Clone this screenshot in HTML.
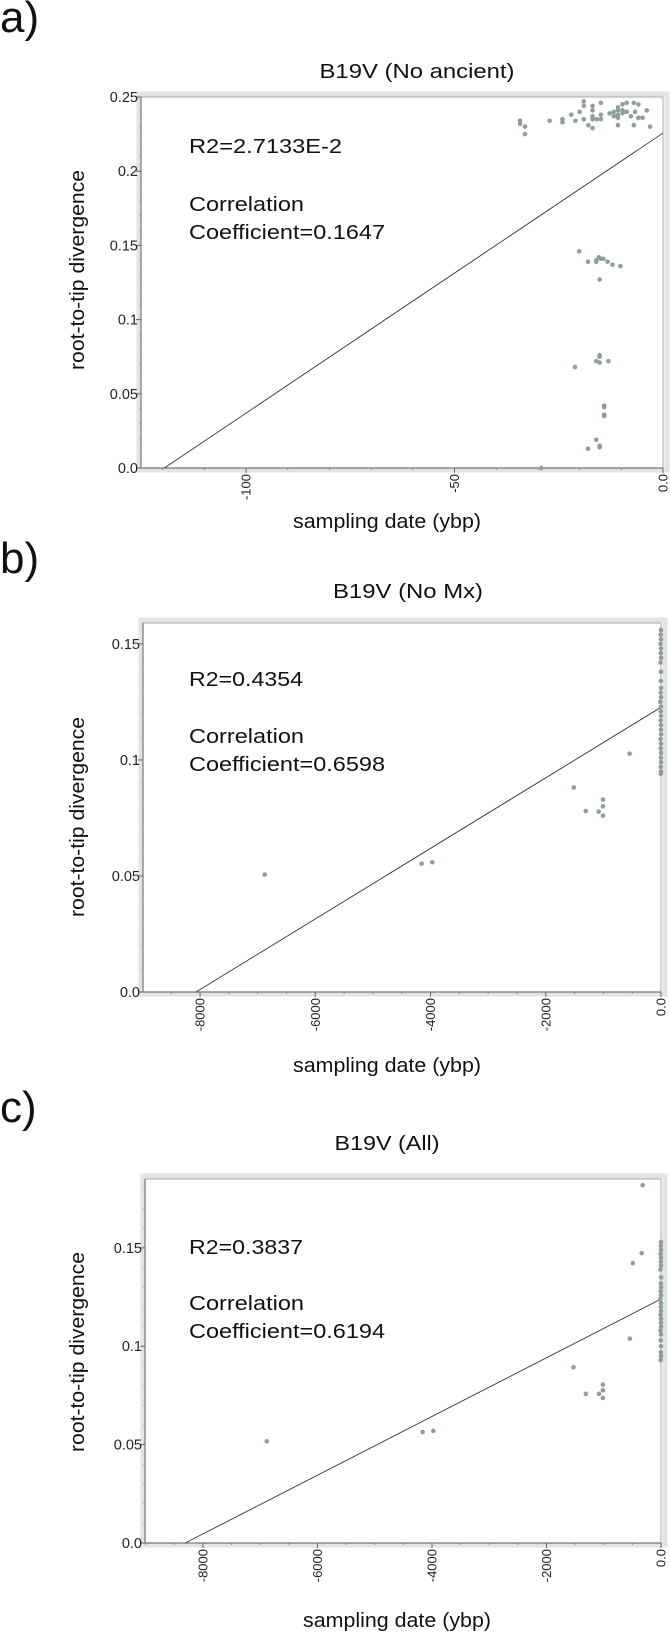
<!DOCTYPE html>
<html><head><meta charset="utf-8">
<style>
html,body{margin:0;padding:0;background:#fff;}
svg{display:block;font-family:"Liberation Sans",Arial,sans-serif;}
</style></head>
<body>
<svg id="fig" width="670" height="1641" viewBox="0 0 670 1641" xmlns="http://www.w3.org/2000/svg"></svg>
<script>
// ---- Panel a data (No ancient) ----
const aYears = [-34.3,-34.3,-33.1,-33.1,-27.2,-24.1,-24.1,-22.0,-21.0,-20.0,-19.0,-19.0,-19.0,-17.9,-16.9,-16.9,-16.9,-16.9,-16.9,-15.9,-14.9,-14.9,-14.9,-12.8,-11.8,-11.8,-10.8,-10.8,-10.8,-10.8,-10.8,-9.7,-9.7,-9.7,-8.7,-8.7,-7.7,-7.0,-7.0,-6.7,-5.9,-5.9,-4.9,-3.9,-3.1,
  -20.1,-18.0,-16.0,-15.4,-14.9,-14.3,-13.3,-12.1,-10.2,-15.2,-16.0,
  -21.1,-16.0,-15.2,-15.2,-15.2,-13.1,
  -14.1,-14.1,-14.1,-14.1,
  -16.0,-18.0,-15.2,-15.2,-29.2];
const aValues = [0.234,0.232,0.230,0.225,0.234,0.235,0.233,0.238,0.234,0.240,0.247,0.244,0.235,0.231,0.229,0.244,0.241,0.237,0.235,0.235,0.246,0.238,0.235,0.239,0.240,0.237,0.243,0.241,0.238,0.236,0.231,0.245,0.241,0.239,0.246,0.240,0.237,0.246,0.231,0.240,0.245,0.236,0.236,0.241,0.230,
  0.146,0.139,0.139,0.142,0.141,0.141,0.139,0.137,0.136,0.127,0.140,
  0.068,0.072,0.076,0.075,0.071,0.072,
  0.042,0.041,0.036,0.035,
  0.019,0.013,0.015,0.014,0.000];
const aFit = [-119.6, 0.2257]; // x-intercept, value at 0
const aXTicks = [-100,-50,0];
const aXTickLabels = ["-100","-50","0.0"];
const aYTicks = [0,0.05,0.1,0.15,0.2,0.25];
const aYTickLabels = ["0.0","0.05","0.1","0.15","0.2","0.25"];

// ---- Panel b data (No Mx) ----
const bYears = [-6878,-4155,-3969,-1514,-1306,-1082,-1007,-1007,-1007,-545,
  0,-5,0,-8,0,-4,0,-10,0,-3,0,-6,0,-12,0,-4,0,-7,0,-2,0,-9,0,-5,0,-3,0,-6,0,-4];
const bValues = [0.0506,0.0553,0.0559,0.0881,0.078,0.0777,0.0829,0.080,0.076,0.1027,
  0.156,0.154,0.152,0.150,0.148,0.146,0.144,0.142,0.138,0.134,0.131,0.129,0.127,0.125,0.123,0.121,0.119,0.117,0.115,0.113,0.111,0.109,0.107,0.105,0.103,0.101,0.099,0.097,0.095,0.094];
const bFit = [-8070, 0.1227];
const bXTicks = [-8000,-6000,-4000,-2000,0];
const bXTickLabels = ["-8000","-6000","-4000","-2000","0.0"];
const bYTicks = [0,0.05,0.1,0.15];
const bYTickLabels = ["0.0","0.05","0.1","0.15"];

// ---- Panel c data (All) ----
const cYears = [-6886,-4163,-3976,-1529,-1313,-1082,-1015,-1015,-1015,-545,-492,-336,-321,
  0,-5,0,-8,0,-4,0,-10,0,-3,0,-6,0,-12,0,-4,0,-7,0,-2,0,-9,0,-5,0,-3,0,-6];
const cValues = [0.0517,0.0564,0.057,0.0893,0.0758,0.0758,0.0805,0.0776,0.0737,0.1039,0.1422,0.1473,0.1819,
  0.153,0.151,0.149,0.147,0.145,0.143,0.141,0.139,0.135,0.132,0.130,0.128,0.126,0.124,0.122,0.120,0.118,0.116,0.114,0.112,0.110,0.108,0.106,0.103,0.100,0.097,0.095,0.093];
const cFit = [-8310, 0.124];
const cXTicks = [-8000,-6000,-4000,-2000,0];
const cXTickLabels = ["-8000","-6000","-4000","-2000","0.0"];
const cYTicks = [0,0.05,0.1,0.15];
const cYTickLabels = ["0.0","0.05","0.1","0.15"];

const NS = "http://www.w3.org/2000/svg";
const svg = document.getElementById('fig');
function mk(tag, attrs, parent){
  const e = document.createElementNS(NS, tag);
  for (const k in attrs) e.setAttribute(k, attrs[k]);
  (parent||svg).appendChild(e);
  return e;
}
function fit(t, len){
  t.setAttribute('textLength', len);
  t.setAttribute('lengthAdjust', 'spacingAndGlyphs');
}

function panel(cfg){
  const g = mk('g', {});
  
  
  const L=cfg.left, R=cfg.right, T=cfg.top, B=cfg.bottom;
  const xS = v => L + (v - cfg.xMin)/(cfg.xMax - cfg.xMin)*(R-L);
  const yS = v => B - (v - cfg.yMin)/(cfg.yMax - cfg.yMin)*(B-T);

  const letter = mk('text', {x:0, y:cfg.letterY, 'font-size':44, fill:'#111'}, g);
  letter.textContent = cfg.letter;
  
  

  const title = mk('text', {x:cfg.titleX, y:cfg.titleY, 'font-size':20, 'text-anchor':'middle', fill:'#111'}, g);
  title.textContent = cfg.title;
  fit(title, cfg.titleLen);
  
  

  const frame = mk('rect', {x:L-2, y:T-3, width:R-L+6, height:B-T+5, fill:'none', stroke:'#e3e3e3', 'stroke-width':5}, g);
  
  
  const box = mk('rect', {x:L, y:T, width:R-L, height:B-T, fill:'#fff', stroke:'#aaa', 'stroke-width':1}, g);
  
  

  const xa = mk('line', {x1:L, y1:B, x2:R, y2:B, stroke:'#777', 'stroke-width':1.2}, g);
  
  
  const ya = mk('line', {x1:L, y1:T, x2:L, y2:B, stroke:'#777', 'stroke-width':1.2}, g);
  
  

  for (let v = cfg.xMin; v <= cfg.xMax + 1e-9; v += cfg.xMinor){
    const k = Math.round(v/cfg.xMinor)*cfg.xMinor;
    if (k < cfg.xMin) continue;
    mk('line', {x1:xS(k), y1:B, x2:xS(k), y2:B+2, stroke:'#777', 'stroke-width':0.8}, g);
  }
  for (let v = cfg.yMin; v <= cfg.yMax + 1e-9; v += cfg.yMinor){
    mk('line', {x1:L-2, y1:yS(v), x2:L, y2:yS(v), stroke:'#999', 'stroke-width':0.6}, g);
  }
  cfg.xTicks.forEach((v,i)=>{
    mk('line', {x1:xS(v), y1:B, x2:xS(v), y2:B+5, stroke:'#666', 'stroke-width':1}, g);
    const t = mk('text', {x:0, y:0, 'font-size':13, 'text-anchor':'end', fill:'#222',
      transform:`translate(${xS(v)+4.5},${B+6}) rotate(-90)`}, g);
    t.textContent = cfg.xTickLabels[i];
    
    
  });
  cfg.yTicks.forEach((v,i)=>{
    mk('line', {x1:L-5, y1:yS(v), x2:L, y2:yS(v), stroke:'#666', 'stroke-width':1}, g);
    const t = mk('text', {x:L-3, y:yS(v)+5, 'font-size':14.5, 'text-anchor':'end', fill:'#222'}, g);
    t.textContent = cfg.yTickLabels[i];
    
    
  });

  const xl = mk('text', {x:cfg.xLabelX, y:cfg.xLabelY, 'font-size':20, 'text-anchor':'middle', fill:'#111'}, g);
  xl.textContent = 'sampling date (ybp)';
  fit(xl, 188);
  
  
  const yl = mk('text', {x:0, y:0, 'font-size':20, 'text-anchor':'middle', fill:'#111',
    transform:`translate(84,${cfg.yLabelY}) rotate(-90)`}, g);
  yl.textContent = 'root-to-tip divergence';
  fit(yl, 200);
  
  

  const fl = mk('line', {x1:xS(cfg.fit[0]), y1:yS(0), x2:xS(0), y2:yS(cfg.fit[1]), stroke:'#333', 'stroke-width':0.9}, g);
  
  

  cfg.xs.forEach((x,i)=>{
    const c = mk('circle', {cx:xS(x), cy:yS(cfg.ys[i]), r:2.3, fill:'#8e9e9c'}, g);
    
    
  });

  cfg.notes.forEach((n,i)=>{
    const t = mk('text', {x:189, y:cfg.noteY[i], 'font-size':20, fill:'#111'}, g);
    t.textContent = n;
    fit(t, cfg.noteLen[i]);
    
    
  });
}

panel({id:'a', letter:'a)', letterY:32, title:'B19V (No ancient)', titleX:417, titleY:78, titleLen:195,
  left:141, right:663, top:97, bottom:468, xMin:-125.2, xMax:0, yMin:0, yMax:0.25,
  xMinor:10, yMinor:0.01, xTicks:aXTicks, xTickLabels:aXTickLabels, yTicks:aYTicks, yTickLabels:aYTickLabels,
  xLabelX:387, xLabelY:528, yLabelY:270, fit:aFit, xs:aYears, ys:aValues,
  notes:['R2=2.7133E-2','Correlation','Coefficient=0.1647'], noteY:[153,211,239], noteLen:[153,115,196]});

panel({id:'b', letter:'b)', letterY:573, title:'B19V (No Mx)', titleX:408, titleY:598, titleLen:150,
  left:143, right:661, top:623, bottom:992, xMin:-8990, xMax:0, yMin:0, yMax:0.159,
  xMinor:500, yMinor:0.01, xTicks:bXTicks, xTickLabels:bXTickLabels, yTicks:bYTicks, yTickLabels:bYTickLabels,
  xLabelX:387, xLabelY:1072, yLabelY:817, fit:bFit, xs:bYears, ys:bValues,
  notes:['R2=0.4354','Correlation','Coefficient=0.6598'], noteY:[686,743,771], noteLen:[114,115,196]});

panel({id:'c', letter:'c)', letterY:1122, title:'B19V (All)', titleX:387, titleY:1150, titleLen:105,
  left:145, right:661, top:1179, bottom:1543, xMin:-9012, xMax:0, yMin:0, yMax:0.185,
  xMinor:500, yMinor:0.01, xTicks:cXTicks, xTickLabels:cXTickLabels, yTicks:cYTicks, yTickLabels:cYTickLabels,
  xLabelX:397, xLabelY:1627, yLabelY:1352, fit:cFit, xs:cYears, ys:cValues,
  notes:['R2=0.3837','Correlation','Coefficient=0.6194'], noteY:[1254,1310,1338], noteLen:[114,115,196]});
</script>
</body></html>
